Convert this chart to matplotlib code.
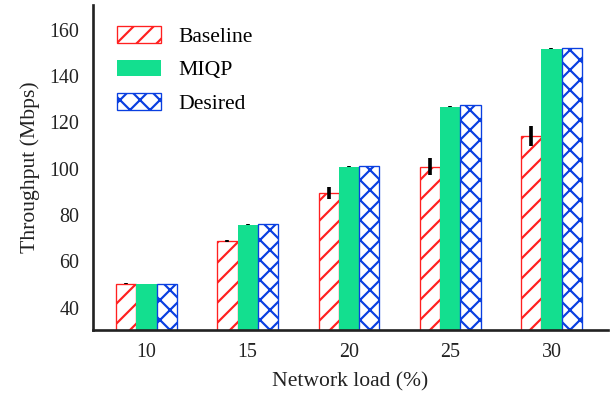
import numpy as np
import matplotlib
matplotlib.use("Agg")
import matplotlib.pyplot as plt

# valeurs
loads = ["10", "15", "20", "25", "30"]
baseline = [50.5, 68.9, 89.5, 100.9, 114.0]
baseline_err = [0.2, 0.5, 2.4, 3.5, 4.3]
miqp = [50.5, 75.9, 100.9, 126.8, 151.8]
miqp_err = [0.0, 0.1, 0.2, 0.3, 0.4]
desired = [50.5, 76.3, 101.3, 127.3, 152.0]

plt.rcParams['font.family'] = ['Liberation Serif', 'DejaVu Serif']
plt.rcParams['hatch.linewidth'] = 1.3

fig = plt.figure(figsize=(610 / 120, 397 / 120), dpi=120)
ax = fig.add_axes([0.152, 0.169, 0.845, 0.818])

x = np.arange(len(loads))
w = 0.2

ax.bar(x - w, baseline, w, color='white', edgecolor='#ff2020',
       hatch='//', linewidth=0.8, label='Baseline')
ax.bar(x, miqp, w, color='#13df8f', edgecolor='#13df8f', linewidth=0, label='MIQP')
ax.bar(x + w, desired, w, color='white', edgecolor='#0a3fe0',
       hatch='xx', linewidth=0.8, label='Desired')

ax.errorbar(x - w, baseline, yerr=baseline_err, fmt='none', ecolor='black',
            elinewidth=2.2, capsize=0)
ax.errorbar(x, miqp, yerr=miqp_err, fmt='none', ecolor='black',
            elinewidth=2.2, capsize=0)

ax.set_xlim(-0.53, 4.56)
ax.set_ylim(30.5, 170.5)
ax.set_yticks([40, 60, 80, 100, 120, 140, 160])
ax.set_xticks(x)
ax.set_xticklabels(loads)

ax.spines['top'].set_visible(False)
ax.spines['right'].set_visible(False)
for s in ['left', 'bottom']:
    ax.spines[s].set_linewidth(1.6)
    ax.spines[s].set_color('#222222')
ax.tick_params(length=0, labelsize=12, colors='#222222', pad=8)

ax.set_xlabel('Network load (%)', fontsize=13, color='#222222', labelpad=6)
ax.set_ylabel('Throughput (Mbps)', fontsize=13, color='#222222', labelpad=6)

ax.legend(loc='upper left', frameon=False, fontsize=13,
          bbox_to_anchor=(0.01, 0.995), handlelength=2.0, handleheight=0.8,
          labelspacing=0.58, handletextpad=0.8)

fig.savefig('out.png', dpi=120)
plt.close(fig)
